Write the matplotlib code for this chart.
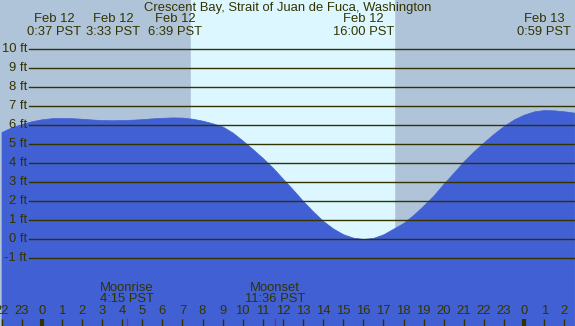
import matplotlib
matplotlib.use("Agg")
import matplotlib.pyplot as plt
import numpy as np

# Tide heights (ft), read every half hour, hours relative to midnight Feb 12
hours = [-2.0, -1.5, -1.0, -0.5, 0.0, 0.5, 1.0, 1.5, 2.0, 2.5, 3.0, 3.5,
         4.0, 4.5, 5.0, 5.5, 6.0, 6.5, 7.0, 7.5, 8.0, 8.5, 9.0, 9.5,
         10.0, 10.5, 11.0, 11.5, 12.0, 12.5, 13.0, 13.5, 14.0, 14.5, 15.0, 15.5,
         16.0, 16.5, 17.0, 17.5, 18.0, 18.5, 19.0, 19.5, 20.0, 20.5, 21.0, 21.5,
         22.0, 22.5, 23.0, 23.5, 24.0, 24.5, 25.0, 25.5, 26.0, 26.5]
heights = [5.63, 5.88, 6.05, 6.20, 6.30, 6.36, 6.37, 6.36, 6.33, 6.29, 6.26, 6.25,
           6.26, 6.28, 6.31, 6.35, 6.38, 6.40, 6.39, 6.33, 6.23, 6.09, 5.92, 5.60,
           5.18, 4.73, 4.26, 3.75, 3.17, 2.60, 2.00, 1.45, 0.95, 0.55, 0.25, 0.07,
           0.00, 0.06, 0.25, 0.55, 0.85, 1.28, 1.77, 2.30, 2.92, 3.50, 4.10, 4.62,
           5.10, 5.55, 5.96, 6.30, 6.55, 6.72, 6.79, 6.77, 6.72, 6.65]

# High/low tide events: hour, date, time label
event_hours = [0.62, 3.55, 6.65, 16.0, 24.98]
event_dates = ["Feb 12", "Feb 12", "Feb 12", "Feb 12", "Feb 13"]
event_times = ["0:37 PST", "3:33 PST", "6:39 PST", "16:00 PST", "0:59 PST"]

sunrise, sunset = 7.43, 17.53
moon_hours = [4.25, 11.6]
moon_names = ["Moonrise", "Moonset"]
moon_times = ["4:15 PST", "11:36 PST"]

tick_hours = list(range(-2, 27))
tick_labels = [str(h % 24) for h in tick_hours]
levels = list(range(-1, 11))

title = "Crescent Bay, Strait of Juan de Fuca, Washington"

NIGHT = "#b0c4d9"
DAY = "#dcf7ff"
WATER = "#4160d3"
INK = "#333300"

plt.rcParams["font.family"] = ["Liberation Sans", "DejaVu Sans"]
fs = 9.4

fig = plt.figure(figsize=(5.75, 3.26), dpi=100)
ax = fig.add_axes([0, 0, 1, 1])
x0, x1 = -2.075, 26.53
y0, y1 = -4.58, 12.58
ax.set_xlim(x0, x1)
ax.set_ylim(y0, y1)
ax.axis("off")

ax.axvspan(x0, x1, color=NIGHT, zorder=0)
ax.axvspan(sunrise, sunset, color=DAY, zorder=1)
ax.fill_between(hours, heights, y0, color=WATER, zorder=2, lw=0.5,
                edgecolor=WATER)

# level lines start a bit right of the labels
line_start = x0 + 29 / 575 * (x1 - x0)
label_x = x0 + 27 / 575 * (x1 - x0)
for lv in levels:
    ax.plot([line_start, x1], [lv, lv], color=INK, lw=1.0, zorder=3)
    ax.text(label_x, lv, f"{lv} ft", ha="right", va="center",
            fontsize=fs, color=INK, zorder=4)

ax.text((x0 + x1) / 2, 12.18, title, ha="center", va="center",
        fontsize=fs, color=INK, zorder=4)
for h, d, t in zip(event_hours, event_dates, event_times):
    ax.text(h, 11.6, d, ha="center", va="center", fontsize=fs, color=INK, zorder=4)
    ax.text(h, 10.92, t, ha="center", va="center", fontsize=fs, color=INK, zorder=4)

# bottom hour axis
tick_top = y0 + 7 / 19
for h, lab in zip(tick_hours, tick_labels):
    ax.text(h, y0 + 15 / 19, lab, ha="center", va="center", fontsize=fs,
            color=INK, zorder=4)
    ax.plot([h, h], [y0, tick_top], color=INK, lw=3 if h % 24 == 0 else 1,
            solid_capstyle="butt", zorder=4)

for h, n, t in zip(moon_hours, moon_names, moon_times):
    ax.text(h, y0 + 38 / 19, n, ha="center", va="center", fontsize=fs,
            color=INK, zorder=4)
    ax.text(h, y0 + 27 / 19, t, ha="center", va="center", fontsize=fs,
            color=INK, zorder=4)
    ax.plot([h, h], [y0, y0 + 8 / 19], color="red", lw=0.8,
            solid_capstyle="butt", zorder=4)

fig.savefig("out.png", dpi=100)
